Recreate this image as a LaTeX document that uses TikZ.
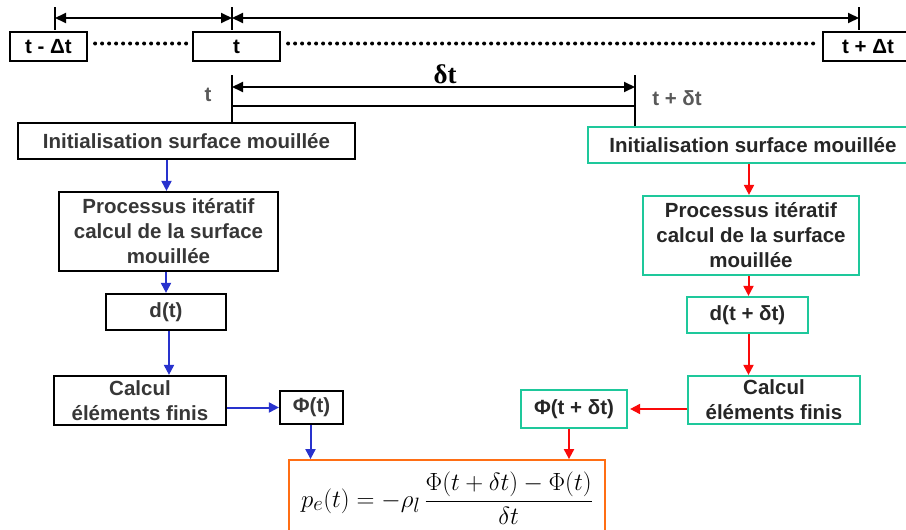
\documentclass[tikz,border=0pt]{standalone}
\usepackage{fontspec}
\setsansfont{Liberation Sans}
\newfontfamily\timesfont{Liberation Serif}
\usetikzlibrary{arrows.meta}

\definecolor{txtgray}{RGB}{55,55,55}
\definecolor{arrblue}{RGB}{40,50,205}
\definecolor{arrred}{RGB}{250,10,10}
\definecolor{teal}{RGB}{30,200,155}
\definecolor{formorange}{RGB}{255,110,20}

\begin{document}
\begin{tikzpicture}[x=1pt,y=-1pt,
  lbox/.style={draw=black, line width=2.2pt, inner sep=0pt, align=center,
    text=txtgray, font=\sffamily\bfseries\fontsize{20.5}{25}\selectfont},
  rbox/.style={lbox, draw=teal, text=black!85},
  tbox/.style={lbox, text=black},
  barrow/.style={arrblue, line width=2pt, -{Triangle[length=10pt,width=10pt]}},
  rarrow/.style={arrred, line width=2pt, -{Triangle[length=10pt,width=10pt]}},
  tarrow/.style={line width=2pt, {Triangle[length=11pt,width=10pt]}-{Triangle[length=11pt,width=10pt]}},
  tick/.style={line width=2pt},
  dots/.style={line width=4pt, line cap=round, dash pattern=on 0pt off 7pt}]
\useasboundingbox (0,0) rectangle (906,530);

% echelle de temps globale
\node[tbox, minimum width=77pt, minimum height=29pt] (tm) at (48.5,46.5) {t - Δt};
\node[tbox, minimum width=87pt, minimum height=29pt] (t0) at (236.5,46.5) {t};
\node[tbox, minimum width=90pt, minimum height=29pt] (tp) at (868,46.5) {t + Δt};
\draw[dots] (tm.east) ++(7,-3) -- ([xshift=-4pt,yshift=3pt]t0.west);
\draw[dots] (t0.east) ++(7,-3) -- ([xshift=-4pt,yshift=3pt]tp.west);
\coordinate (g1) at (55,18);
\coordinate (g2) at (232,18);
\coordinate (g3) at (859,18);
\foreach \x in {55,232,859}
  \draw[tick] (\x,7) -- (\x,30);
\draw[tarrow] (g1) -- (g2);
\draw[tarrow] (g2) -- (g3);

% pas de temps
\node[lbox, draw=none, minimum width=0pt, text=black!65] (lt) at (208,95) {t};
\node[lbox, draw=none, minimum width=0pt, text=black!65] (ltd) at (677,98) {t + δt};
\node[font=\timesfont\bfseries\fontsize{27}{30}\selectfont] (ldt) at (445,74) {δt};

% colonne gauche : instant t
\node[lbox, minimum width=337pt, minimum height=36pt] (initL) at (186.5,141) {Initialisation surface mouillée};
\node[lbox, minimum width=219pt, minimum height=79pt] (procL) at (168.5,231.5) {Processus itératif\\calcul de la surface\\mouillée};
\node[lbox, minimum width=120pt, minimum height=36pt] (dL) at (166,312) {d(t)};
\node[lbox, minimum width=172pt, minimum height=49pt] (calcL) at (140,400.5) {Calcul\\éléments finis};
\node[lbox, minimum width=63pt, minimum height=33pt] (phiL) at (311.5,407.5) {Φ(t)};

% colonne droite : instant t + dt
\node[rbox, minimum width=330pt, minimum height=36pt] (initR) at (753,145) {Initialisation surface mouillée};
\node[rbox, minimum width=216pt, minimum height=79pt] (procR) at (751,235.5) {Processus itératif\\calcul de la surface\\mouillée};
\node[rbox, minimum width=121pt, minimum height=36pt] (dR) at (747.5,315) {d(t + δt)};
\node[rbox, minimum width=172pt, minimum height=48pt] (calcR) at (774,400) {Calcul\\éléments finis};
\node[rbox, minimum width=106pt, minimum height=38pt] (phiR) at (574,409) {Φ(t + δt)};

% pression
\node[draw=formorange, line width=1.8pt, minimum width=316pt, minimum height=90pt, inner sep=0pt] (fbox) at (447,505) {};
\node[anchor=base, inner sep=0pt, font=\fontsize{29}{34}\selectfont] (formula) at (447,507)
  {$\displaystyle p_e(t) = -\rho_l\,\frac{\Phi(t+\delta t)-\Phi(t)}{\delta t}$};

\coordinate (a1) at (232,75);
\coordinate (b1) at (635,75);
\draw[tick] (a1) -- (a1 |- initL.north);
\draw[tick] (b1) -- (b1 |- initR.north);
\draw[tarrow] (a1 |- 0,87) -- (b1 |- 0,87);
\draw[tick] (a1 |- 0,106) -- (b1 |- 0,106);

\draw[barrow] (procL.north |- initL.south) ++(-2,0) -- ([xshift=-2pt]procL.north);
\draw[barrow] (dL.north |- procL.south) -- (dL.north);
\draw[barrow] ([xshift=3pt]dL.south) -- ([xshift=3pt]dL.south |- calcL.north);
\draw[barrow] (calcL.east |- phiL) -- (phiL.west);
\draw[barrow] ([xshift=-1pt]phiL.south) -- ([xshift=-1pt]phiL.south |- fbox.north);

\draw[rarrow] (procR.north |- initR.south) ++(-2,0) -- ([xshift=-2pt]procR.north);
\draw[rarrow] ([xshift=1pt]dR.north |- procR.south) -- ([xshift=1pt]dR.north);
\draw[rarrow] ([xshift=1pt]dR.south) -- ([xshift=1pt]dR.south |- calcR.north);
\draw[rarrow] (calcR.west |- phiR) -- ([xshift=2pt]phiR.east);
\draw[rarrow] ([xshift=-5pt]phiR.south) -- ([xshift=-5pt]phiR.south |- fbox.north);
\end{tikzpicture}
\end{document}
